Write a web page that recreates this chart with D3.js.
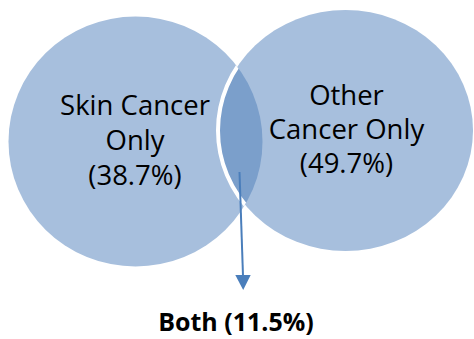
<!DOCTYPE html>
<html>
<head>
<meta charset="utf-8">
<script src="https://cdn.jsdelivr.net/npm/d3@7"></script>
<style>
  html, body { margin: 0; padding: 0; background: #fff; }
  svg { display: block; }
</style>
</head>
<body>
<svg id="chart" width="474" height="339"></svg>
<script>
// Shares of patients by cancer type
const setNames = ["Skin Cancer Only", "Other Cancer Only"];
const setLines = [["Skin Cancer", "Only"], ["Other", "Cancer Only"]];
const setValues = [38.7, 49.7];
const overlapName = "Both";
const overlapValue = 11.5;

const W = 474, H = 339;
const svg = d3.select("#chart");

// Layout of the two sets along a horizontal point scale
const x = d3.scalePoint().domain(setNames).range([135.5, 345.5]);
const cy = d3.scaleOrdinal().domain(setNames).range([141.5, 130.5]);
const rx = d3.scaleOrdinal().domain(setNames).range([127, 127.5]);
const ry = d3.scaleOrdinal().domain(setNames).range([125, 120.5]);
const fill = d3.scaleOrdinal().domain(setNames).range(["#a7bfdd", "#a7bfdd"]);
const fmt = v => `(${d3.format(".1f")(v)}%)`;

const defs = svg.append("defs");
defs.append("clipPath").attr("id", "clip-left")
  .append("ellipse")
  .attr("cx", x(setNames[0])).attr("cy", cy(setNames[0]))
  .attr("rx", rx(setNames[0])).attr("ry", ry(setNames[0]));

const sets = setNames.map((name, i) => ({ name, lines: setLines[i], value: setValues[i] }));

svg.append("g").selectAll("ellipse")
  .data(sets)
  .join("ellipse")
  .attr("cx", d => x(d.name))
  .attr("cy", d => cy(d.name))
  .attr("rx", d => rx(d.name))
  .attr("ry", d => ry(d.name))
  .attr("fill", d => fill(d.name));

// Intersection lens, with the white rim of the second set inside the first
const right = sets[1];
svg.append("ellipse")
  .attr("clip-path", "url(#clip-left)")
  .attr("cx", x(right.name)).attr("cy", cy(right.name))
  .attr("rx", rx(right.name)).attr("ry", ry(right.name))
  .attr("fill", "#7b9fcb")
  .attr("stroke", "#ffffff")
  .attr("stroke-width", 4);

// Set labels
const labelPos = [{ x: 135, y: 115, step: 35 }, { x: 346.5, y: 105, step: 34 }];
const labels = svg.append("g")
  .attr("font-family", "'Open Sans', 'Noto Sans', sans-serif")
  .attr("font-size", 27.5)
  .attr("fill", "#000")
  .attr("text-anchor", "middle");
sets.forEach((s, i) => {
  const t = labels.append("text");
  [...s.lines, fmt(s.value)].forEach((ln, j) => {
    t.append("tspan")
      .attr("x", labelPos[i].x)
      .attr("y", labelPos[i].y + j * labelPos[i].step)
      .text(ln);
  });
});

// Arrow from the overlap down to its label
const arrowColor = "#4a7ebb";
svg.append("line")
  .attr("x1", 239.5).attr("y1", 172)
  .attr("x2", 243).attr("y2", 276)
  .attr("stroke", arrowColor)
  .attr("stroke-width", 2);
svg.append("path")
  .attr("d", "M235.3,275 L250.7,275 L243.2,290 Z")
  .attr("fill", arrowColor);

svg.append("text")
  .attr("x", 236).attr("y", 331)
  .attr("text-anchor", "middle")
  .attr("font-family", "'Open Sans', 'Noto Sans', sans-serif")
  .attr("font-weight", "bold")
  .attr("font-size", 25)
  .attr("fill", "#000")
  .text(`${overlapName} ${fmt(overlapValue)}`);
</script>
</body>
</html>
